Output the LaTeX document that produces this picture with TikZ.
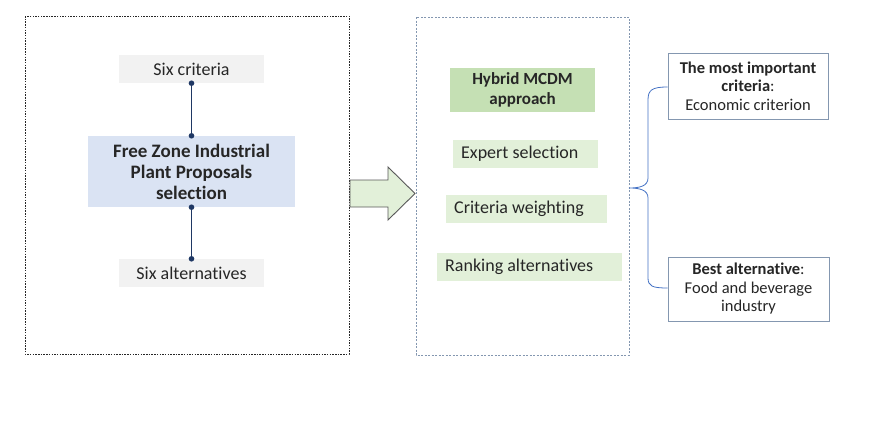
\documentclass[tikz,border=0pt]{standalone}
\usepackage{fontspec}
\setmainfont{Carlito}[Ligatures={NoCommon}]
\begin{document}
\begin{tikzpicture}[x=1pt,y=-1pt,
  txt/.style={font=\fontsize{18}{21}\selectfont, text=black!85},
  gstep/.style={anchor=west, inner ysep=0pt, inner xsep=8pt, txt},
  resb/.style={draw=resline, line width=0.8pt, fill=white, align=center, font=\fontsize{16.5}{18.5}\selectfont, text=black!85},
  conn/.style={draw=navy, line width=1.9pt}
]
\definecolor{gfill}{HTML}{E2F0D9}
\definecolor{gdark}{HTML}{C5E0B4}
\definecolor{bfill}{HTML}{DAE3F3}
\definecolor{navy}{HTML}{1F3864}
\definecolor{resline}{HTML}{8497B0}
\definecolor{brace}{HTML}{4472C4}
\definecolor{lgray}{HTML}{F2F2F2}
\useasboundingbox (0,0) rectangle (872,423);
% frames
\draw[black!85, line width=0.7pt, dash pattern=on 1.5pt off 1.2pt] (25,16) rectangle (349,354);
\draw[resline, line width=0.7pt, dash pattern=on 2pt off 1.5pt] (416,17) rectangle (629,355);
% left panel
\node[fill=lgray, minimum width=145pt, minimum height=28pt, inner sep=0pt, txt] (crit) at (191.5,69) {Six criteria};
\node[fill=bfill, minimum width=207pt, minimum height=71pt, inner sep=0pt, align=center, font=\bfseries\fontsize{19}{21}\selectfont, text=black!85] (fz) at (191.5,171.5) {Free Zone Industrial\\Plant Proposals\\selection};
\node[fill=lgray, minimum width=145pt, minimum height=28pt, inner sep=0pt, txt] (alt) at (191.5,273) {Six alternatives};
\draw[conn] (crit.south) -- (fz.north);
\draw[conn] (fz.south) -- (alt.north);
\foreach \p in {crit.south, fz.north, fz.south, alt.north} \fill[navy] (\p) circle (2.8pt);
% block arrow
\draw[fill=gfill, draw=black!65, line width=0.9pt, line join=miter]
  (350,180) -- (388,180) -- (388,167) -- (415,193.5) -- (388,220) -- (388,207) -- (350,207) -- cycle;
% middle panel
\node[fill=gdark, minimum width=145pt, minimum height=44pt, inner sep=0pt, align=center, font=\bfseries\fontsize{17}{20}\selectfont, text=black!85] (hyb) at (522.5,90) {Hybrid MCDM\\approach};
\fill[gfill] (453,140) rectangle (598,168);
\fill[gfill] (446,195) rectangle (607,223);
\fill[gfill] (437,253) rectangle (622,281);
\node[gstep] (exp) at (453,154) {Expert selection};
\node[gstep] (cw) at (446,209) {Criteria weighting};
\node[gstep] (rk) at (437,267) {Ranking alternatives};
% results
\node[resb, minimum width=160pt, minimum height=66pt, inner sep=0pt] (mi) at (748,86) {\textbf{The most important}\\\textbf{criteria}:\\Economic criterion};
\node[resb, minimum width=161pt, minimum height=64pt, inner sep=0pt] (ba) at (748.5,289) {\textbf{Best alternative}:\\Food and beverage\\industry};
% brace
\coordinate (bt) at (629,188);
\draw[brace, line width=0.8pt]
  (mi.west |- 0,87) .. controls (652,87) and (648,90) .. (648,100)
  -- (648,178) .. controls (648,186) and (640,188) .. (bt)
  .. controls (640,188) and (648,190) .. (648,198)
  -- (648,278) .. controls (648,286) and (652,288) .. (ba.west |- 0,288);
\end{tikzpicture}
\end{document}
